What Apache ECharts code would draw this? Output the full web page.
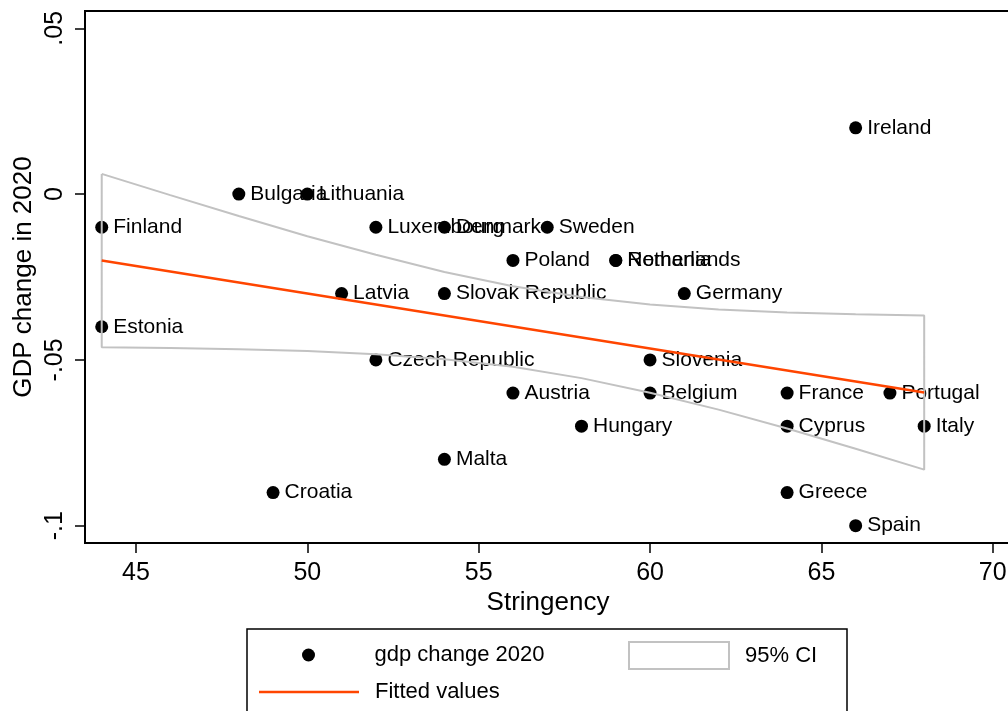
<!DOCTYPE html>
<html>
<head>
<meta charset="utf-8">
<title>GDP change in 2020 vs Stringency</title>
<script src="https://cdn.jsdelivr.net/npm/echarts@6/dist/echarts.min.js"></script>
<style>
  html, body { margin: 0; padding: 0; background: #fff; }
  #chart { width: 1008px; height: 711px; }
</style>
</head>
<body>
<div id="chart"></div>
<script>
// EU member states: stringency index vs. GDP change in 2020
const countries = ['Finland', 'Estonia', 'Bulgaria', 'Lithuania', 'Luxembourg', 'Denmark', 'Sweden',
  'Poland', 'Netherlands', 'Romania', 'Latvia', 'Slovak Republic', 'Germany', 'Czech Republic',
  'Slovenia', 'Austria', 'Belgium', 'France', 'Portugal', 'Hungary', 'Cyprus', 'Italy', 'Malta',
  'Croatia', 'Greece', 'Spain', 'Ireland'];
const stringency = [44, 44, 48, 50, 52, 54, 57, 56, 59, 59, 51, 54, 61, 52, 60, 56, 60, 64, 67, 58, 64, 68, 54, 49, 64, 66, 66];
const gdpChange = [-0.01, -0.04, 0.00, 0.00, -0.01, -0.01, -0.01, -0.02, -0.02, -0.02, -0.03, -0.03, -0.03, -0.05,
  -0.05, -0.06, -0.06, -0.06, -0.06, -0.07, -0.07, -0.07, -0.08, -0.09, -0.09, -0.10, 0.02];

// Linear fit and its 95% confidence band
const fitX = [44, 68];
const fitY = [-0.0200, -0.0598];
const ciX = [44, 46, 48, 50, 52, 54, 56, 58, 60, 62, 64, 66, 68];
const ciUpper = [0.0061, -0.0003, -0.0066, -0.0127, -0.0183, -0.0235, -0.0278, -0.0310, -0.0333, -0.0348, -0.0357, -0.0362, -0.0366];
const ciLower = [-0.0462, -0.0464, -0.0468, -0.0473, -0.0483, -0.0498, -0.0521, -0.0555, -0.0599, -0.0650, -0.0707, -0.0768, -0.0831];

// Axis ticks
const xTicks = [45, 50, 55, 60, 65, 70];
const yTicks = [-0.1, -0.05, 0, 0.05];
const yTickLabels = ['-.1', '-.05', '0', '.05'];

const FONT = '"Liberation Sans", Arial, Helvetica, sans-serif';
const FIT_COLOR = '#ff4500';
const CI_COLOR = '#c2c2c2';

const scatterData = countries.map((c, i) => ({ name: c, value: [stringency[i], gdpChange[i]] }));
const fitData = fitX.map((x, i) => [x, fitY[i]]);
// closed outline: upper bound left to right, lower bound right to left
const ciData = ciX.map((x, i) => [x, ciUpper[i]])
  .concat(ciX.slice().reverse().map((x, j) => [x, ciLower[ciX.length - 1 - j]]))
  .concat([[ciX[0], ciUpper[0]]]);

const chart = echarts.init(document.getElementById('chart'), null, { renderer: 'canvas' });

const legendText = { fontFamily: FONT, fontSize: 22, color: '#000', lineHeight: 26, padding: [0, 0, 0, 11] };

chart.setOption({
  animation: false,
  backgroundColor: '#fff',
  grid: {
    left: 85, top: 11, right: -3, bottom: 168,
    show: true, borderColor: '#000', borderWidth: 2,
    containLabel: false, outerBoundsMode: 'none'
  },
  xAxis: {
    type: 'value',
    min: 43.512, max: 70.533,
    name: 'Stringency',
    nameLocation: 'middle',
    nameGap: 47,
    nameMoveOverlap: false,
    nameTextStyle: { fontFamily: FONT, fontSize: 26, color: '#000' },
    axisLine: { show: true, onZero: false, lineStyle: { color: '#000', width: 2 } },
    axisTick: { show: true, length: 10, customValues: xTicks, lineStyle: { color: '#000', width: 1.5 } },
    axisLabel: { customValues: xTicks, margin: 18, fontFamily: FONT, fontSize: 25, color: '#000' },
    splitLine: { show: false }
  },
  yAxis: {
    type: 'value',
    min: -0.10522, max: 0.05522,
    name: 'GDP change in 2020',
    nameLocation: 'middle',
    nameGap: 48,
    nameMoveOverlap: false,
    nameTextStyle: { fontFamily: FONT, fontSize: 26, color: '#000' },
    axisLine: { show: true, onZero: false, lineStyle: { color: '#000', width: 2 } },
    axisTick: { show: true, length: 10, customValues: yTicks, lineStyle: { color: '#000', width: 1.5 } },
    axisLabel: {
      customValues: yTicks, rotate: 90, margin: 17,
      fontFamily: FONT, fontSize: 25, color: '#000',
      formatter: v => {
        const k = yTicks.findIndex(t => Math.abs(t - v) < 1e-9);
        return k >= 0 ? yTickLabels[k] : '';
      }
    },
    splitLine: { show: false }
  },
  legend: [
    {
      data: [{ name: 'gdp change 2020', icon: 'circle', itemStyle: { color: '#000', opacity: 1 } }],
      left: 302, top: 642, padding: 0,
      itemWidth: 100, itemHeight: 13,
      textStyle: legendText, selectedMode: false
    },
    {
      data: [{ name: '95% CI', icon: 'rect', itemStyle: { color: '#fff', borderColor: CI_COLOR, borderWidth: 2 } }],
      left: 628, top: 641, padding: 0,
      itemWidth: 100, itemHeight: 27,
      textStyle: legendText, selectedMode: false
    },
    {
      data: [{ name: 'Fitted values', icon: 'rect', itemStyle: { color: FIT_COLOR, borderWidth: 0 } }],
      left: 259, top: 679, padding: 0,
      itemWidth: 100, itemHeight: 2.5,
      textStyle: legendText, selectedMode: false
    }
  ],
  graphic: [{
    type: 'rect',
    shape: { x: 247, y: 629, width: 600, height: 120 },
    style: { fill: 'none', stroke: '#000', lineWidth: 1.5 },
    silent: true
  }],
  series: [
    {
      name: 'gdp change 2020',
      type: 'scatter',
      z: 2,
      data: scatterData,
      symbol: 'circle',
      symbolSize: 13,
      itemStyle: { color: '#000', opacity: 1 },
      label: {
        show: true, position: 'right', distance: 5,
        formatter: '{b}',
        fontFamily: FONT, fontSize: 21, color: '#000'
      },
      emphasis: { disabled: true }
    },
    {
      name: '95% CI',
      type: 'line',
      z: 3,
      data: ciData,
      symbol: 'none',
      showSymbol: false,
      smooth: false,
      lineStyle: { color: CI_COLOR, width: 2 },
      itemStyle: { color: CI_COLOR },
      emphasis: { disabled: true }
    },
    {
      name: 'Fitted values',
      type: 'line',
      z: 4,
      data: fitData,
      symbol: 'none',
      showSymbol: false,
      lineStyle: { color: FIT_COLOR, width: 2.5 },
      itemStyle: { color: FIT_COLOR },
      emphasis: { disabled: true }
    }
  ]
});
</script>
</body>
</html>
